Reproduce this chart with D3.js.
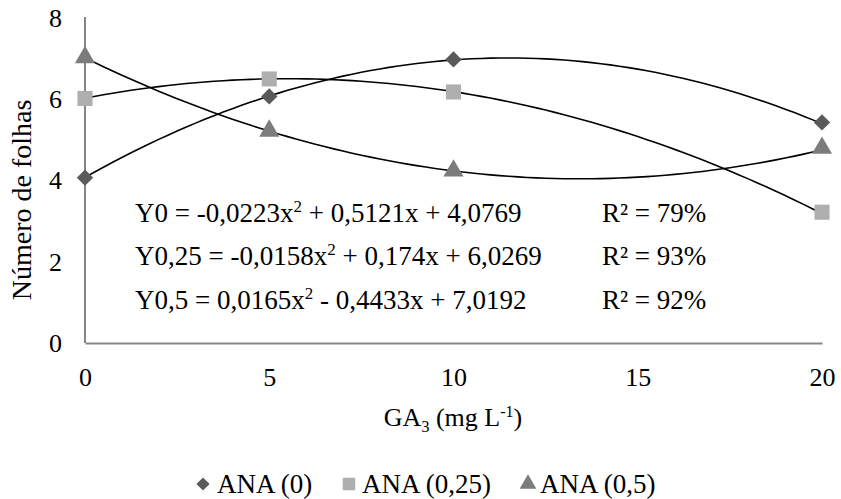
<!DOCTYPE html>
<html>
<head>
<meta charset="utf-8">
<script src="https://cdn.jsdelivr.net/npm/d3@7"></script>
<style>
  body { margin: 0; background: #fff; }
</style>
</head>
<body>
<svg id="graf" width="841" height="499" font-family="Liberation Serif"></svg>
<script>
"use strict";

// doses de GA3 (mg L-1)
var doses = [0, 5, 10, 20];

// numero de folhas
var ana0 = [4.07, 6.07, 6.98, 5.43];
var ana025 = [6.02, 6.5, 6.18, 3.22];
var ana05 = [7.03, 5.22, 4.24, 4.8];

// coeficientes das equacoes (a x² + b x + c)
var coefAna0 = [-0.0223, 0.5121, 4.0769];
var coefAna025 = [-0.0158, 0.174, 6.0269];
var coefAna05 = [0.0165, -0.4433, 7.0192];

var nomesSeries = ["ANA (0)", "ANA (0,25)", "ANA (0,5)"];
var ticksX = [0, 5, 10, 15, 20];
var ticksY = [0, 2, 4, 6, 8];

var equacoes = [
    {y: "Y0", a: "-0,0223", b: "+ 0,5121x + 4,0769", r2: "79%"},
    {y: "Y0,25", a: "-0,0158", b: "+ 0,174x + 6,0269", r2: "93%"},
    {y: "Y0,5", a: "0,0165", b: "- 0,4433x + 7,0192", r2: "92%"}
];

var series = [
    {nome: nomesSeries[0], valores: ana0, coef: coefAna0, simbolo: d3.symbolDiamond2, cor: "#5a5a5a"},
    {nome: nomesSeries[1], valores: ana025, coef: coefAna025, simbolo: d3.symbolSquare2, cor: "#afafaf"},
    {nome: nomesSeries[2], valores: ana05, coef: coefAna05, simbolo: d3.symbolTriangle2, cor: "#7c7c7c"}
];

var FONTE = "Liberation Serif";
var svg = d3.select("#graf");

var x = d3.scaleLinear().domain([0, 20]).range([85, 822]);
var y = d3.scaleLinear().domain([0, 8]).range([343, 18]);

// eixos (sem marcas de tick, como no Excel)
var eixoX = svg.append("g").attr("transform", "translate(0," + y(0) + ")")
    .call(d3.axisBottom(x).tickValues(ticksX).tickSize(0).tickPadding(25));
var eixoY = svg.append("g").attr("transform", "translate(" + x(0) + ",0)")
    .call(d3.axisLeft(y).tickValues(ticksY).tickSize(0).tickPadding(23));

[eixoX, eixoY].forEach(function(e) {
    e.attr("font-family", FONTE).attr("font-size", 26);
    e.select(".domain").attr("stroke", "#868686").attr("stroke-width", 2);
    e.selectAll("text").attr("fill", "#000");
});
eixoY.select(".domain").attr("d", "M0," + (y(8) - 1) + "V" + y(0));

// titulos
svg.append("text")
    .attr("transform", "translate(31,200) rotate(-90)")
    .attr("text-anchor", "middle")
    .attr("font-size", 28)
    .text("Número de folhas");

var tituloX = svg.append("text")
    .attr("x", 453).attr("y", 426)
    .attr("text-anchor", "middle")
    .attr("font-size", 26);
tituloX.append("tspan").text("GA");
tituloX.append("tspan").attr("dy", 6).attr("font-size", 16).text("3");
tituloX.append("tspan").attr("dy", -6).text(" (mg L");
tituloX.append("tspan").attr("dy", -9).attr("font-size", 16).text("-1");
tituloX.append("tspan").attr("dy", 9).text(")");

// linhas de tendencia polinomial
var xs = d3.range(0, 20.001, 0.25);
var linha = d3.line()
    .x(function(d) { return x(d[0]); })
    .y(function(d) { return y(d[1]); });

series.forEach(function(s) {
    var pts = xs.map(function(v) {
        return [v, s.coef[0] * v * v + s.coef[1] * v + s.coef[2]];
    });
    svg.append("path").attr("d", linha(pts))
        .attr("fill", "none").attr("stroke", "#000").attr("stroke-width", 1.6);
});

// pontos
series.forEach(function(s) {
    svg.append("g").selectAll("path").data(s.valores).enter().append("path")
        .attr("transform", function(d, i) { return "translate(" + x(doses[i]) + "," + y(d) + ")"; })
        .attr("d", d3.symbol().type(s.simbolo).size(s.simbolo === d3.symbolDiamond2 ? 170 : 290))
        .attr("fill", s.cor);
});

// equacoes
var linhasEq = [222, 265, 309];
equacoes.forEach(function(eq, i) {
    var t = svg.append("text").attr("x", 135).attr("y", linhasEq[i]).attr("font-size", 27);
    t.append("tspan").text(eq.y + " = " + eq.a + "x");
    t.append("tspan").attr("dy", -10).attr("font-size", 17).text("2");
    t.append("tspan").attr("dy", 10).text(" " + eq.b);
    svg.append("text").attr("x", 602).attr("y", linhasEq[i]).attr("font-size", 27)
        .text("R² = " + eq.r2);
});

// legenda
var posLegenda = [[203, 217], [349, 362], [528, 540]];
var leg = svg.append("g").selectAll("g").data(series).enter().append("g");
leg.append("path")
    .attr("transform", function(d, i) { return "translate(" + posLegenda[i][0] + ",484)"; })
    .attr("d", function(d) {
        return d3.symbol().type(d.simbolo).size(d.simbolo === d3.symbolDiamond2 ? 110 : 200)();
    })
    .attr("fill", function(d) { return d.cor; });
leg.append("text")
    .attr("x", function(d, i) { return posLegenda[i][1]; })
    .attr("y", 493)
    .attr("font-size", 27)
    .text(function(d) { return d.nome; });
</script>
</body>
</html>
